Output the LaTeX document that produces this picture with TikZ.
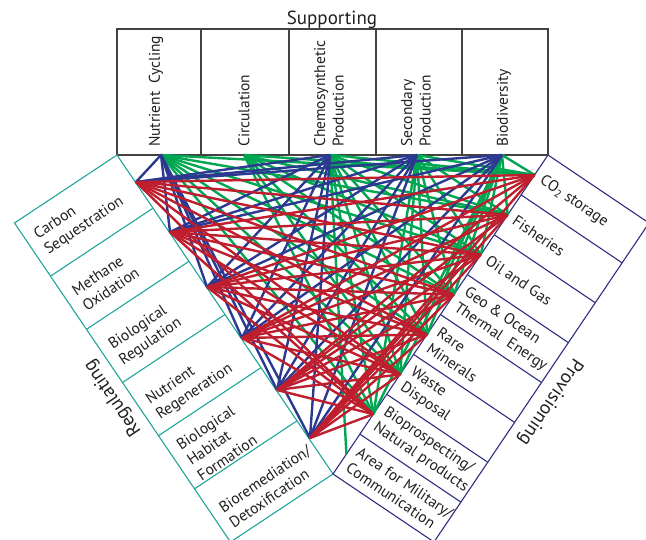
\documentclass[tikz,border=0pt]{standalone}
\usepackage{fontspec}
\setmainfont{PT Sans}
\usetikzlibrary{calc}
\definecolor{cblue}{HTML}{2B3990}
\definecolor{cgreen}{HTML}{00A651}
\definecolor{cred}{HTML}{BE1E2D}
\definecolor{cteal}{HTML}{1FA59A}
\definecolor{cnavy}{HTML}{2E2D7F}
\definecolor{ctext}{HTML}{231F20}
\begin{document}
\begin{tikzpicture}[x=1pt,y=-1pt,
  lbl/.style={font=\fontsize{15.5}{18.5}\selectfont, text=ctext, align=left, inner sep=0pt},
  sect/.style={font=\fontsize{19}{22}\selectfont, text=ctext, inner sep=0pt},
  boxline/.style={draw=ctext!85, line width=1.1pt},
  regline/.style={draw=cteal, line width=1.1pt},
  provline/.style={draw=cnavy, line width=1.1pt},
  link/.style={line width=2.4pt, line join=round},
  blink/.style={link, draw=cblue},
  glink/.style={link, draw=cgreen},
  rlink/.style={link, draw=cred}]
\useasboundingbox (0,0) rectangle (646,539);

% ---------- Supporting ----------
\node[sect] (suptitle) at (332,20) {Supporting};
\foreach \a/\b [count=\i] in {117/201,201/289,289/376,376/462,462/548}
  \draw[boxline] (\a,29) rectangle (\b,155);
\node[lbl, rotate=90, anchor=west] (l1) at (156,147) {Nutrient\ \ Cycling};
\node[lbl, rotate=90, anchor=west] (l2) at (244,147) {Circulation};
\node[lbl, rotate=90, anchor=west] (l3) at (329,147) {Chemosynthetic\\Production};
\node[lbl, rotate=90, anchor=west] (l4) at (416,147) {Secondary\\Production};
\node[lbl, rotate=90, anchor=west] (l5) at (504,147) {Biodiversity};

% ---------- Regulating band ----------
\coordinate (RA) at (117,155);
\coordinate (RB) at (333,474);
\coordinate (RD) at (14.5,223);
\coordinate (RC) at (230.5,542);
\draw[regline] (RA) -- (RB) -- (RC) -- (RD) -- cycle;
\foreach \k in {1,...,5}
  \draw[regline] ($(RA)!\k/6!(RB)$) -- ($(RD)!\k/6!(RC)$);
\foreach \t/\d [count=\k from 0] in {{Carbon\\Sequestration}/0, {Methane\\Oxidation}/3, {Biological\\Regulation}/5, {Nutrient\\Regeneration}/7, {Biological\\Habitat\\Formation}/6, {Bioremediation/\\Detoxification}/8}
  \node[lbl, rotate=34, anchor=west] (rl\k) at ($($(RD)!{(\k+0.5)/6}!(RC)$)+(8.5,-5.7)+(\d*0.561,\d*0.829)$) {\t};
\node[sect, rotate=124] (regtitle) at (113,398) {Regulating};

% ---------- Provisioning band ----------
\coordinate (PA) at (548,155);
\coordinate (PB) at (333,474);
\coordinate (PD) at (649,223);
\coordinate (PC) at (434,542);
\draw[provline] (PA) -- (PB) -- (PC) -- (PD) -- cycle;
\foreach \k in {1,...,7}
  \draw[provline] ($(PA)!\k/8!(PB)$) -- ($(PD)!\k/8!(PC)$);
\foreach \t [count=\k from 0] in {CO\textsubscript{2} storage, Fisheries, Oil and Gas, Geo \& Ocean\\Thermal\ \ Energy, Rare\\Minerals, Waste\\Disposal, Bioprospecting/\\Natural products, Area for Military/\\Communication}
  \node[lbl, rotate=-34, anchor=west] (pl\k) at ($($(PA)!{(\k+0.5)/8}!(PB)$)+(6.5,4.5)$) {\t};
\node[sect, rotate=-124] (provtitle) at (550,402) {Provisioning};

% ---------- connection points ----------
\coordinate (s1) at (161,155);
\coordinate (s2) at (244,155);
\coordinate (s3) at (330,155);
\coordinate (s4) at (417,155);
\coordinate (s5) at (502,155);
\coordinate (r1) at (136,182);
\coordinate (r2) at (170,232);
\coordinate (r3) at (207,287);
\coordinate (r4) at (242,338);
\coordinate (r5) at (277,390);
\coordinate (r6) at (310,438);
\foreach \k in {1,...,8}
  \coordinate (p\k) at ($(PA)!{(\k-0.5)/8}!(PB)$);

% ---------- links ----------
\foreach \s in {1,...,5}
  \foreach \p in {1,...,7}
    \draw[glink] (s\s) -- (p\p);
\draw[glink] (s3) -- (p8);
\foreach \s in {1,3,4,5}
  \foreach \r in {1,...,6}
    \draw[blink] (s\s) -- (r\r);
\foreach \r in {1,...,6}
  \foreach \p in {1,...,7}
    \draw[rlink] (r\r) -- (p\p);
\end{tikzpicture}
\end{document}
